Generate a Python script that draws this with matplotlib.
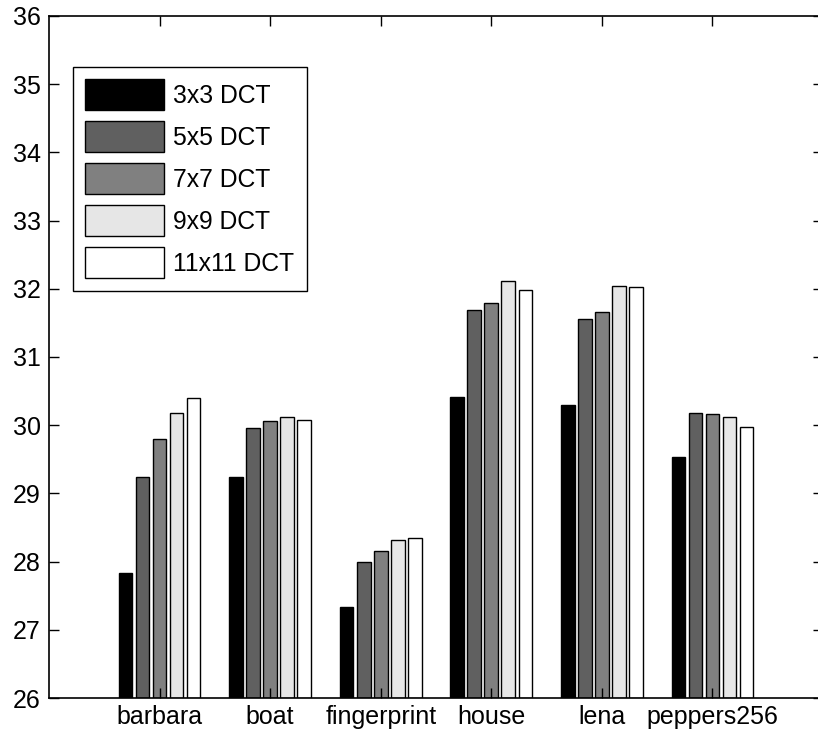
import matplotlib
matplotlib.use("Agg")
import matplotlib.pyplot as plt
import numpy as np

plt.rcParams["font.family"] = ["Liberation Sans", "DejaVu Sans"]

images = ["barbara", "boat", "fingerprint", "house", "lena", "peppers256"]
series = ["3x3 DCT", "5x5 DCT", "7x7 DCT", "9x9 DCT", "11x11 DCT"]
dct3 = [27.83, 29.24, 27.34, 30.41, 30.29, 29.54]
dct5 = [29.24, 29.96, 27.99, 31.69, 31.55, 30.18]
dct7 = [29.80, 30.06, 28.15, 31.79, 31.66, 30.17]
dct9 = [30.18, 30.12, 28.32, 32.11, 32.04, 30.12]
dct11 = [30.40, 30.08, 28.35, 31.98, 32.03, 29.97]
values = [dct3, dct5, dct7, dct9, dct11]
colours = ["#000000", "#606060", "#808080", "#e6e6e6", "#ffffff"]

fig = plt.figure(figsize=(8.18, 7.35), dpi=100)
# right edge of the box sits just past the canvas, as in the reference
ax = fig.add_axes([49 / 818, 1 - 698 / 735, (823 - 49) / 818, (698 - 16) / 735])

x = np.arange(1, len(images) + 1)
n = len(series)
group_w = n / (n + 1.5)
pitch = group_w / n
for i, (name, vals, col) in enumerate(zip(series, values, colours)):
    offs = (i - (n - 1) / 2) * pitch
    ax.bar(x + offs, np.array(vals) - 26, bottom=26, width=pitch * 0.8,
           color=col, edgecolor="black", linewidth=1.0, label=name)

ax.set_xlim(0, 7)
ax.set_ylim(26, 36)
ax.set_xticks(x)
ax.set_xticklabels(images)
ax.set_yticks(range(26, 37))
ax.tick_params(direction="in", length=7, width=1.0, top=True, right=True,
               labelsize=18, pad=5)
ax.tick_params(axis="y", pad=6)
for s in ax.spines.values():
    s.set_linewidth(1.2)

leg = ax.legend(loc="upper left", bbox_to_anchor=(24 / 774, 1 - 51 / 682),
                fontsize=17.8, frameon=True, fancybox=False, edgecolor="black",
                framealpha=1, handlelength=3.2, handleheight=1.55,
                labelspacing=0.445, handletextpad=0.36, borderpad=0.5,
                borderaxespad=0)
leg.get_frame().set_linewidth(1.0)

fig.savefig("out.png", dpi=100)
